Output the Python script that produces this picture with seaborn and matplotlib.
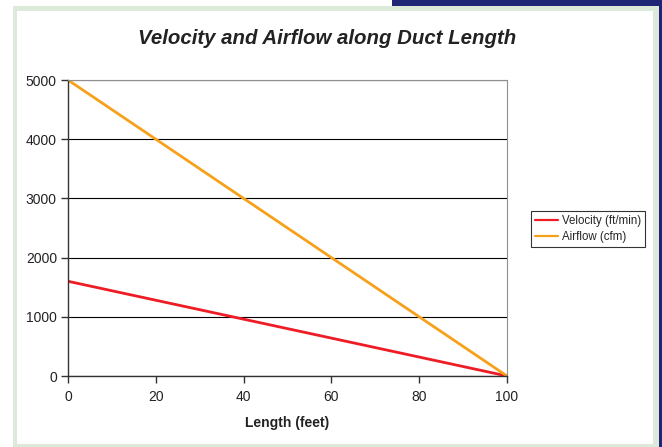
import matplotlib
matplotlib.use("Agg")
import matplotlib.pyplot as plt
from matplotlib.patches import Rectangle
import seaborn as sns
import pandas as pd

length_ft = [0, 20, 40, 60, 80, 100]
velocity_ftmin = [1600, 1280, 960, 640, 320, 0]
airflow_cfm = [5000, 4000, 3000, 2000, 1000, 0]
series_names = ["Velocity (ft/min)", "Airflow (cfm)"]
y_ticks = [0, 1000, 2000, 3000, 4000, 5000]
x_ticks = [0, 20, 40, 60, 80, 100]

df = pd.DataFrame({
    "Length": length_ft * 2,
    "Value": velocity_ftmin + airflow_cfm,
    "Series": [series_names[0]] * len(length_ft) + [series_names[1]] * len(length_ft),
})

sns.set_theme(style="white")
plt.rcParams["font.family"] = ["Liberation Sans", "DejaVu Sans"]

W, H = 662, 447
fig = plt.figure(figsize=(W / 100, H / 100), dpi=100)
fig.patch.set_facecolor("white")

def rect(x0, y0, x1, y1, color, z=-10):
    fig.patches.append(Rectangle((x0 / W, 1 - y1 / H), (x1 - x0) / W, (y1 - y0) / H,
                                 transform=fig.transFigure, facecolor=color,
                                 edgecolor="none", zorder=z))

rect(392, 0, 662, 6, "#1f2675")
rect(659, 0, 662, 447, "#1f2675")
rect(13, 6, 659, 447, "#dde9d9", -9)
rect(17, 11, 653, 444, "white", -8)

ax = fig.add_axes([68 / W, 1 - 376 / H, (507 - 68) / W, (376 - 80) / H])
ax.set_zorder(5)
ax.set_facecolor("white")
sns.lineplot(data=df, x="Length", y="Value", hue="Series",
             palette={series_names[0]: "#ee1c25", series_names[1]: "#f7a11a"},
             linewidth=2, ax=ax, legend=True)

ax.set_xlim(0, 100)
ax.set_ylim(0, 5000)
ax.set_xticks(x_ticks)
ax.set_yticks(y_ticks)
ax.yaxis.grid(True, color="black", linewidth=0.8)
ax.set_axisbelow(True)
for s in ["top", "right"]:
    ax.spines[s].set_color("#909090")
    ax.spines[s].set_linewidth(0.8)
for s in ["left", "bottom"]:
    ax.spines[s].set_color("#333333")
    ax.spines[s].set_linewidth(1)
ax.tick_params(axis="both", which="major", direction="out", length=5, width=1,
               color="#333333", labelsize=10, labelcolor="#222222", pad=3,
               left=True, bottom=True)
ax.tick_params(axis="x", pad=5)
ax.set_ylabel("")
ax.set_xlabel("Length (feet)", fontsize=10, fontweight="bold", color="#222222", labelpad=9)

fig.text(327 / W, 1 - 38 / H, "Velocity and Airflow along Duct Length",
         ha="center", va="center", fontsize=14.7, fontweight="bold", style="italic",
         color="#222222")

leg = ax.legend(loc="center", bbox_to_anchor=(588 / W, 1 - 229 / H),
                bbox_transform=fig.transFigure, fontsize=8.3, frameon=True,
                fancybox=False, edgecolor="black", handlelength=2.0,
                handletextpad=0.3, borderpad=0.35, labelspacing=0.3)
leg.get_frame().set_linewidth(0.8)
for line in leg.get_lines():
    line.set_linewidth(1.6)

fig.savefig("out.png", dpi=100, facecolor=fig.get_facecolor())
